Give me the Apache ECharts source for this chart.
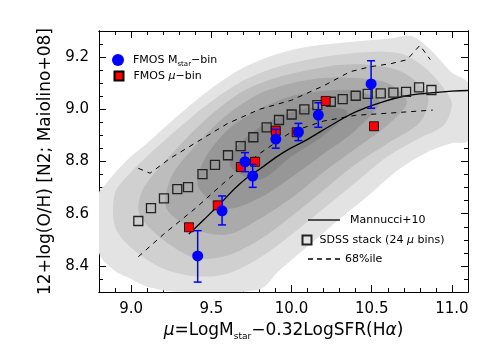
<!DOCTYPE html>
<html><head><meta charset="utf-8">
<script src="https://cdn.jsdelivr.net/npm/echarts@6/dist/echarts.min.js"></script>
<style>html,body{margin:0;padding:0;background:#fff}#c{width:498px;height:356px}</style>
</head><body><div id="c"></div>
<script>
// ---- data ----
const sdssX = [9.045,9.124,9.205,9.288,9.355,9.445,9.523,9.604,9.683,9.762,9.845,9.922,10.001,10.080,10.161,10.245,10.319,10.400,10.475,10.556,10.635,10.714,10.795,10.872];
const sdssY = [8.572,8.621,8.659,8.694,8.702,8.752,8.787,8.824,8.859,8.893,8.931,8.959,8.980,9.000,9.016,9.029,9.039,9.052,9.059,9.061,9.064,9.067,9.084,9.074];
const blueX = [9.415,9.567,9.710,9.758,9.902,10.043,10.167,10.496];
const blueY = [8.438,8.611,8.799,8.744,8.886,8.913,8.978,9.097];
const blueLo = [8.338,8.557,8.761,8.701,8.851,8.880,8.931,9.004];
const blueHi = [8.535,8.668,8.834,8.789,8.923,8.946,9.025,9.186];
const redX = [9.361,9.540,9.684,9.773,9.902,10.032,10.213,10.514];
const redY = [8.548,8.632,8.779,8.799,8.918,8.912,9.032,8.935];
const mannX = [9.36,9.45,9.55,9.68,9.8,9.95,10.1,10.25,10.4,10.55,10.7,10.85,11.0,11.1];
const mannY = [8.522,8.575,8.635,8.716,8.77,8.835,8.885,8.94,8.99,9.025,9.05,9.062,9.07,9.072];
const upX = [9.045,9.118,9.243,9.43,9.6,9.8,10.0,10.2,10.365,10.49,10.62,10.72,10.80,10.865];
const upY = [8.774,8.755,8.812,8.882,8.945,9.0,9.035,9.09,9.144,9.163,9.175,9.19,9.245,9.19];
const loX = [9.045,9.2,9.4,9.6,9.8,10.0,10.2,10.4,10.6,10.88];
const loY = [8.435,8.52,8.62,8.73,8.83,8.914,8.955,8.977,8.985,8.997];
// density contours (outer -> inner), [x,y] pairs
const contour1 = [[8.8,8.45],[8.8,8.68],[8.85,8.72],[8.92,8.77],[9.0,8.82],[9.1,8.87],[9.3,8.98],[9.5,9.08],[9.7,9.16],[9.9,9.21],[10.1,9.24],[10.4,9.26],[10.6,9.27],[10.75,9.28],[10.88,9.22],[11.0,9.14],[11.1,9.1],[11.1,8.88],[11.0,8.87],[10.86,8.84],[10.67,8.77],[10.48,8.67],[10.3,8.58],[10.11,8.48],[9.92,8.38],[9.8,8.31],[9.3,8.3],[9.1,8.32],[9.0,8.35],[8.9,8.38]];
const contour2 = [[8.9,8.55],[8.9,8.68],[9.0,8.76],[9.1,8.82],[9.3,8.93],[9.5,9.03],[9.7,9.11],[9.9,9.16],[10.1,9.19],[10.3,9.21],[10.5,9.22],[10.7,9.21],[10.85,9.15],[10.95,9.08],[11.0,9.02],[10.95,8.94],[10.8,8.89],[10.6,8.82],[10.4,8.72],[10.2,8.62],[10.0,8.52],[9.8,8.43],[9.6,8.37],[9.4,8.36],[9.2,8.39],[9.0,8.47]];
const contour3 = [[9.05,8.6],[9.08,8.7],[9.3,8.86],[9.5,8.98],[9.7,9.07],[9.9,9.12],[10.1,9.15],[10.3,9.17],[10.5,9.17],[10.7,9.14],[10.85,9.05],[10.8,8.95],[10.6,8.87],[10.4,8.79],[10.2,8.69],[10.0,8.59],[9.8,8.5],[9.6,8.44],[9.4,8.43],[9.2,8.5]];
const contour4 = [[9.22,8.62],[9.25,8.74],[9.4,8.86],[9.6,8.98],[9.8,9.06],[10.0,9.1],[10.2,9.12],[10.4,9.12],[10.6,9.1],[10.72,9.03],[10.6,8.94],[10.4,8.85],[10.2,8.76],[10.0,8.66],[9.8,8.58],[9.6,8.52],[9.4,8.54]];
const contour5 = [[9.42,8.7],[9.45,8.8],[9.6,8.92],[9.8,9.0],[10.0,9.05],[10.2,9.07],[10.4,9.07],[10.55,9.03],[10.4,8.92],[10.2,8.83],[10.0,8.74],[9.8,8.66],[9.6,8.62]];
const contour6 = [[9.62,8.78],[9.65,8.85],[9.8,8.93],[10.0,8.99],[10.2,9.01],[10.35,8.99],[10.2,8.9],[10.0,8.82],[9.8,8.73]];
const contourColors = ['#e3e3e3','#d0d0d0','#bdbdbd','#aaaaaa','#979797','#878787'];
// ticks
const xMajorTicks = [9.0,9.5,10.0,10.5,11.0];
const xMinorTicks = [8.9,9.1,9.2,9.3,9.4,9.6,9.7,9.8,9.9,10.1,10.2,10.3,10.4,10.6,10.7,10.8,10.9];
const yMajorTicks = [8.4,8.6,8.8,9.0,9.2];
const yMinorTicks = [8.35,8.45,8.5,8.55,8.65,8.7,8.75,8.85,8.9,8.95,9.05,9.1,9.15,9.25];

const FONT = 'DejaVu Sans';
const contours = [contour1,contour2,contour3,contour4,contour5,contour6];
const zip = (a,b) => a.map((v,i)=>[v,b[i]]);

function xAx(pos, ticks, len, labels){
  return {type:'value', min:8.8, max:11.1, position:pos, gridIndex:0,
    axisLine:{show:true, onZero:false, lineStyle:{color:'#000', width:1}},
    axisTick:{show:true, inside:true, length:len, customValues:ticks, lineStyle:{color:'#000', width:1}},
    axisLabel: labels ? {show:true, customValues:xMajorTicks, fontFamily:FONT, fontSize:15, color:'#000', margin:10, formatter:v=>v.toFixed(1)} : {show:false},
    splitLine:{show:false}};
}
function yAx(pos, ticks, len, labels){
  return {type:'value', min:8.3, max:9.3, position:pos, gridIndex:0,
    axisLine:{show:true, onZero:false, lineStyle:{color:'#000', width:1}},
    axisTick:{show:true, inside:true, length:len, customValues:ticks, lineStyle:{color:'#000', width:1}},
    axisLabel: labels ? {show:true, customValues:yMajorTicks, fontFamily:FONT, fontSize:15, color:'#000', margin:10, formatter:v=>v.toFixed(1)} : {show:false},
    splitLine:{show:false}};
}
const xAxes = [xAx('bottom', xMajorTicks, 7, true), xAx('bottom', xMinorTicks, 4, false), xAx('top', xMajorTicks, 7, false), xAx('top', xMinorTicks, 4, false)];
xAxes[0].name = '{g|μ}=LogM{s|star}−0.32LogSFR(H{g|α})';
xAxes[0].nameLocation = 'middle';
xAxes[0].nameGap = 25;
xAxes[0].nameTextStyle = {fontFamily:FONT, fontSize:17, color:'#000', verticalAlign:'top',
  rich:{g:{fontFamily:FONT, fontSize:17, fontStyle:'italic', color:'#000'}, s:{fontFamily:FONT, fontSize:9, color:'#000', verticalAlign:'bottom', padding:[0,0,-2,0]}}};
const yAxes = [yAx('left', yMajorTicks, 7, true), yAx('left', yMinorTicks, 4, false), yAx('right', yMajorTicks, 7, false), yAx('right', yMinorTicks, 4, false)];
yAxes[0].name = '12+log(O/H) [N2; Maiolino+08]';
yAxes[0].nameLocation = 'middle';
yAxes[0].nameGap = 32;
yAxes[0].nameTextStyle = {fontFamily:FONT, fontSize:17, color:'#000'};

const legText = {fontFamily:FONT, fontSize:11, color:'#000'};
const richLeg = {s:{fontFamily:FONT, fontSize:7, color:'#000', verticalAlign:'bottom', padding:[0,0,-2,0]}, g:{fontFamily:FONT, fontSize:11, fontStyle:'italic', color:'#000'}};
const LINE_ICON = 'path://M0,0h32v1.3h-32z';
const DASH_ICON = 'path://M0,0h5v1.3h-5zM9,0h5v1.3h-5zM18,0h5v1.3h-5zM27,0h5v1.3h-5z';

const option = {
  animation:false,
  backgroundColor:'#fff',
  grid:{left:99, right:30, top:31, bottom:64, containLabel:false},
  xAxis:xAxes,
  yAxis:yAxes,
  legend:[
    {data:[{name:'blue', icon:'circle'}], left:112, top:54, padding:0, itemWidth:12, itemHeight:12, textStyle:Object.assign({padding:[0,0,0,4], rich:richLeg}, legText), formatter:()=> 'FMOS M{s|star}−bin', selectedMode:false},
    {data:[{name:'red', icon:'rect'}], left:113.5, top:70.5, padding:0, itemWidth:9, itemHeight:9, textStyle:Object.assign({padding:[0,0,0,5], rich:richLeg}, legText), formatter:()=> 'FMOS {g|μ}−bin', selectedMode:false},
    {data:[{name:'Mannucci+10', icon:LINE_ICON}], left:308, top:214.5, padding:0, itemWidth:32, itemHeight:1.3, textStyle:Object.assign({padding:[0,0,0,5]}, legText), selectedMode:false},
    {data:[{name:'sdss', icon:'rect'}], left:301.5, top:234.5, padding:0, itemWidth:9, itemHeight:9, textStyle:Object.assign({padding:[0,0,0,3], rich:richLeg}, legText), formatter:()=> 'SDSS stack (24 {g|μ} bins)', selectedMode:false},
    {data:[{name:'68%ile', icon:DASH_ICON}], left:308, top:253.5, padding:0, itemWidth:32, itemHeight:1.3, textStyle:Object.assign({}, legText), selectedMode:false}
  ],
  series:[
    {type:'custom', name:'contours', silent:true, clip:true, z:1,
     data:contours.map((c,i)=>[i]),
     renderItem:(params, api)=>{
       const i = api.value(0);
       const pts = contours[i].map(p=>api.coord(p));
       return {type:'polygon', shape:{points:pts, smooth:0.3}, style:{fill:contourColors[i], stroke:null}};
     }},
    {type:'line', name:'68%ile', data:zip(upX,upY), symbol:'none', z:3, lineStyle:{color:'#000', width:1, type:[5,5]}, itemStyle:{color:'#000'}},
    {type:'line', name:'68%ile', data:zip(loX,loY), symbol:'none', z:3, lineStyle:{color:'#000', width:1, type:[5,5]}, itemStyle:{color:'#000'}},
    {type:'line', name:'Mannucci+10', data:zip(mannX,mannY), smooth:true, symbol:'none', z:3, lineStyle:{color:'#000', width:1.3}, itemStyle:{color:'#000'}},
    {type:'scatter', name:'sdss', data:zip(sdssX,sdssY), symbol:'rect', symbolSize:9, z:4, itemStyle:{color:'rgba(0,0,0,0)', borderColor:'#222', borderWidth:1.3, opacity:1}},
    {type:'scatter', name:'red', data:zip(redX,redY), symbol:'rect', symbolSize:9, z:5, itemStyle:{color:'#ff0000', borderColor:'#000', borderWidth:0.8, opacity:1}},
    {type:'custom', name:'bluebars', silent:true, z:6,
     data:blueX.map((x,i)=>[x, blueLo[i], blueHi[i]]),
     renderItem:(params, api)=>{
       const x = api.value(0);
       const a = api.coord([x, api.value(1)]);
       const b = api.coord([x, api.value(2)]);
       const st = {stroke:'#0000ff', lineWidth:1.5};
       return {type:'group', children:[
         {type:'line', shape:{x1:a[0], y1:a[1], x2:b[0], y2:b[1]}, style:st},
         {type:'line', shape:{x1:a[0]-4, y1:a[1], x2:a[0]+4, y2:a[1]}, style:st},
         {type:'line', shape:{x1:b[0]-4, y1:b[1], x2:b[0]+4, y2:b[1]}, style:st}
       ]};
     }},
    {type:'scatter', name:'blue', data:zip(blueX,blueY), symbol:'circle', symbolSize:11, z:7, itemStyle:{color:'#0000ff', opacity:1}}
  ]
};
const chart = echarts.init(document.getElementById('c'), null, {renderer:'canvas'});
chart.setOption(option);
</script></body></html>
